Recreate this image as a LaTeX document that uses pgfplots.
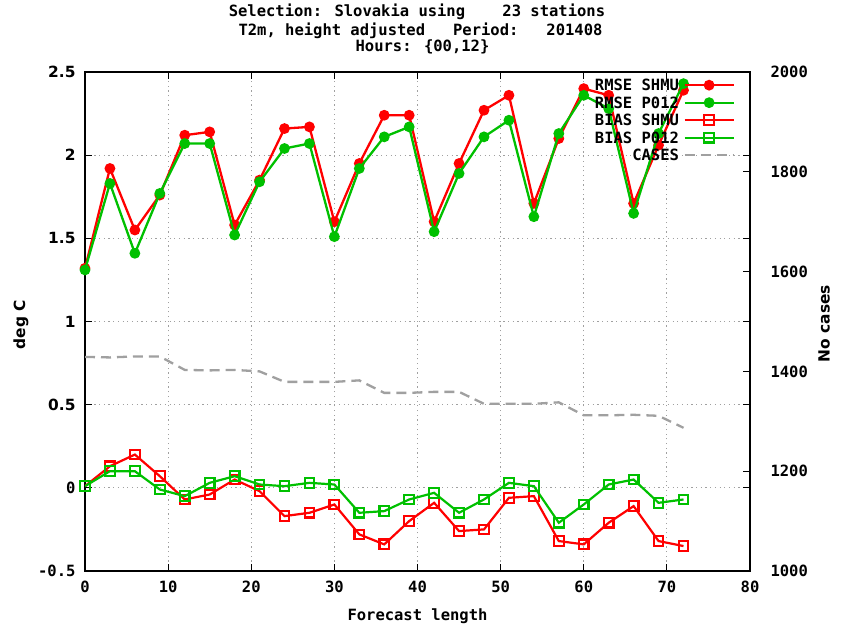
\documentclass[border=0pt]{standalone}
\usepackage{fontspec}
\setmainfont{DejaVu Sans Mono}
\newfontfamily\sansbf{DejaVu Sans}
\usepackage{pgfplots}
\usepackage{pgfplotstable}
\pgfplotsset{compat=1.18}
\definecolor{gpred}{RGB}{255,0,0}
\definecolor{gpgreen}{RGB}{0,192,0}
\definecolor{gpgray}{RGB}{160,160,160}
\newcommand{\mf}{\fontsize{15.5bp}{17.5bp}\selectfont\bfseries}
\newcommand{\sfb}{\fontsize{15.4bp}{17.5bp}\selectfont\sansbf\bfseries}

\pgfplotstableread{
x rs rp bs bp
0 1.32 1.31 0.01 0.01
3 1.92 1.83 0.13 0.10
6 1.55 1.41 0.20 0.10
9 1.76 1.77 0.07 -0.01
12 2.12 2.07 -0.07 -0.05
15 2.14 2.07 -0.04 0.03
18 1.58 1.52 0.05 0.07
21 1.85 1.84 -0.02 0.02
24 2.16 2.04 -0.17 0.01
27 2.17 2.07 -0.15 0.03
30 1.60 1.51 -0.10 0.02
33 1.95 1.92 -0.28 -0.15
36 2.24 2.11 -0.34 -0.14
39 2.24 2.17 -0.20 -0.07
42 1.60 1.54 -0.09 -0.03
45 1.95 1.89 -0.26 -0.15
48 2.27 2.11 -0.25 -0.07
51 2.36 2.21 -0.06 0.03
54 1.71 1.63 -0.05 0.01
57 2.10 2.13 -0.32 -0.21
60 2.40 2.36 -0.34 -0.10
63 2.36 2.28 -0.21 0.02
66 1.71 1.65 -0.11 0.05
69 2.06 2.13 -0.32 -0.09
72 2.39 2.43 -0.35 -0.07
}\data

\pgfplotstableread{
x c
0 1429
3 1428
6 1430
9 1430
12 1403
15 1402
18 1403
21 1400
24 1379
27 1379
30 1379
33 1382
36 1357
39 1357
42 1359
45 1359
48 1335
51 1335
54 1335
57 1338
60 1312
63 1312
66 1313
69 1311
72 1287
}\cases

\begin{document}
\begin{tikzpicture}
\path[use as bounding box] (-85bp,-63bp) rectangle (760bp,571bp);
\begin{axis}[
  scale only axis, width=665bp, height=499bp,
  at={(0,0)}, anchor=south west,
  clip mode=individual,
  xmin=0, xmax=80, ymin=-0.5, ymax=2.5,
  xtick={0,10,20,30,40,50,60,70,80},
  ytick={-0.5,0,0.5,1,1.5,2,2.5},
  yticklabels={{\mf -0.5},{\mf 0},{\sfb 0.5},{\sfb 1},{\sfb 1.5},{\sfb 2},{\sfb 2.5}},
  /pgf/number format/assume math mode=true,
  xticklabel style={font=\mf, yshift=-6.5bp},
  yticklabel style={xshift=-6bp},
  tick align=inside, xtick pos=both, ytick pos=both,
  major tick length=7bp,
  axis line style={line width=1.2bp, black},
  tick style={line width=1bp, black},
  grid=major,
  major grid style={gpgray, line width=0.8bp, dash pattern=on 1.2bp off 3.5bp},
  xlabel={Forecast length},
  xlabel style={font=\mf, at={(axis description cs:0.5,-0.0982)}, anchor=base},
  ylabel={deg C},
  ylabel style={font=\sfb, at={(axis description cs:-0.0962,0.494)}, anchor=center},
  legend plot pos=right,
  legend cell align=right,
  legend image code/.code={\draw[mark repeat=2,mark phase=2] plot coordinates {(0bp,0bp) (24.5bp,0bp) (49bp,0bp)};},
  legend style={at={(axis description cs:0.9774,0.985)}, anchor=north east,
    draw=none, fill=none, inner sep=0pt, row sep=6.5bp, column sep=3bp, font=\mf,
    nodes={inner ysep=0pt, inner xsep=1.5bp, text height=11bp, text depth=0pt}},
]
\addplot[gpred, line width=2.3bp, mark=*, mark size=4.2bp, mark options={solid}] table[x=x,y=rs]{\data};
\addlegendentry{RMSE SHMU}
\addplot[gpgreen, line width=2.3bp, mark=*, mark size=4.2bp, mark options={solid}] table[x=x,y=rp]{\data};
\addlegendentry{RMSE P012}
\addplot[gpred, line width=2.2bp, mark=square, mark size=4.8bp, mark options={solid}] table[x=x,y=bs]{\data};
\addlegendentry{BIAS SHMU}
\addplot[gpgreen, line width=2.2bp, mark=square, mark size=4.8bp, mark options={solid}] table[x=x,y=bp]{\data};
\addlegendentry{BIAS P012}
\addlegendimage{gpgray, line width=2.3bp, dash pattern=on 10bp off 6bp}
\addlegendentry{CASES}
\node[font=\mf, anchor=base] at (axis description cs:0.4992,1.1108) {Selection: Slovakia using\ \ \ \ 23 stations};
\node[font=\mf, anchor=base] at (axis description cs:0.5045,1.0741) {T2m, height adjusted\ \ \ Period:\ \ \ 201408};
\node[font=\mf, anchor=base] at (axis description cs:0.5075,1.0407) {Hours: \{00,12\}};
\end{axis}
\begin{axis}[
  scale only axis, width=665bp, height=499bp,
  at={(0,0)}, anchor=south west,
  xmin=0, xmax=80, ymin=1000, ymax=2000,
  axis x line=none, axis y line*=right,
  ytick={1000,1200,1400,1600,1800,2000},
  /pgf/number format/assume math mode=true,
  /pgf/number format/1000 sep={},
  yticklabel style={font=\mf, xshift=17bp},
  tick align=inside, major tick length=7bp,
  axis line style={line width=1.2bp, black},
  tick style={line width=1bp, black},
  ylabel={No cases},
  ylabel style={font=\sfb, at={(axis description cs:1.1113,0.496)}, anchor=center},
]
\addplot[gpgray, line width=2.3bp, dash pattern=on 10bp off 6bp] table[x=x,y=c]{\cases};
\end{axis}
\end{tikzpicture}
\end{document}
